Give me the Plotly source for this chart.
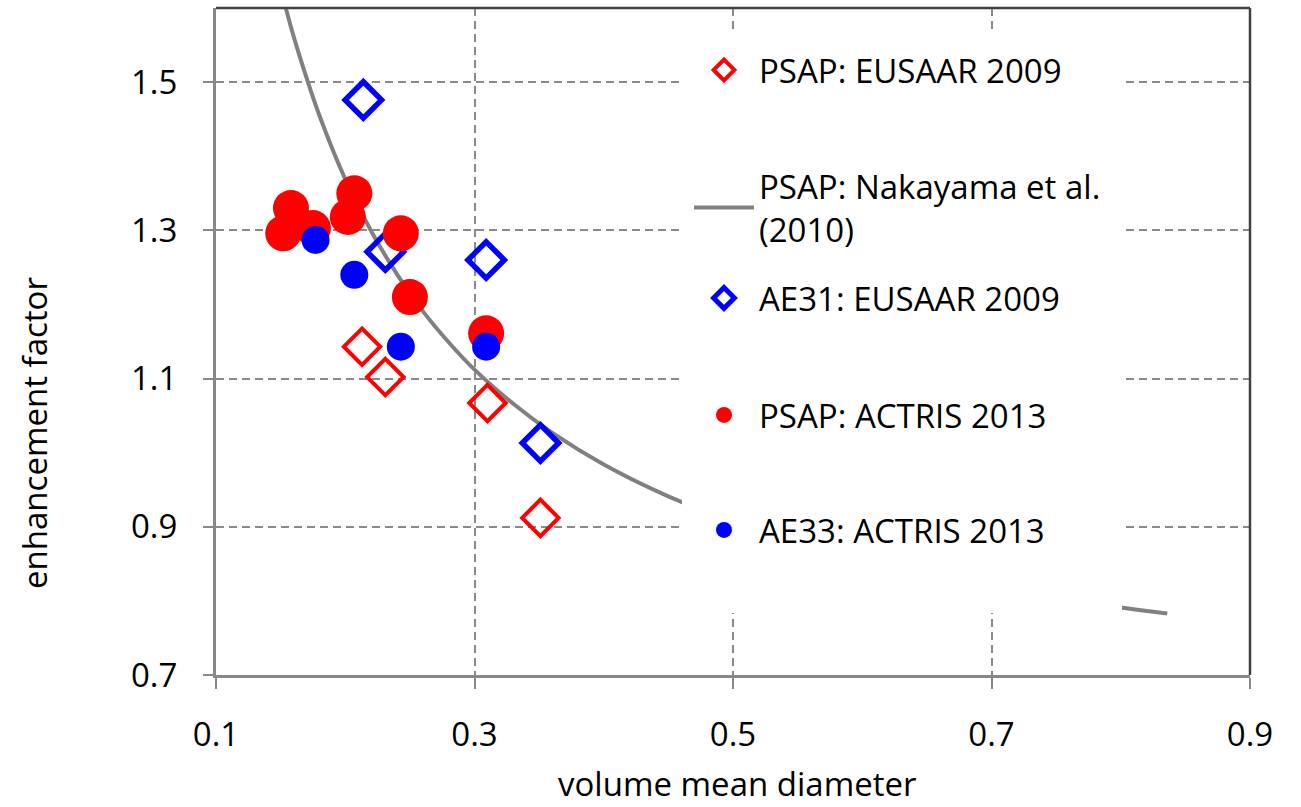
import plotly.graph_objects as go

# ---- data ----
# PSAP: EUSAAR 2009 (open red diamonds)
psap_eusaar_x = [0.213, 0.231, 0.310, 0.351]
psap_eusaar_y = [1.143, 1.102, 1.067, 0.912]
# AE31: EUSAAR 2009 (open blue diamonds)
ae31_x = [0.214, 0.231, 0.309, 0.351]
ae31_y = [1.476, 1.271, 1.260, 1.013]
# PSAP: ACTRIS 2013 (filled red circles)
psap_actris_x = [0.158, 0.152, 0.175, 0.207, 0.202, 0.243, 0.250, 0.309]
psap_actris_y = [1.330, 1.296, 1.303, 1.350, 1.318, 1.296, 1.210, 1.161]
# AE33: ACTRIS 2013 (filled blue circles)
ae33_x = [0.177, 0.207, 0.243, 0.309]
ae33_y = [1.287, 1.240, 1.143, 1.143]
# PSAP: Nakayama et al. (2010) curve
nak_x = [0.154, 0.16, 0.17, 0.18, 0.20, 0.22, 0.24, 0.26, 0.28, 0.30, 0.33,
         0.36, 0.40, 0.45, 0.50, 0.55, 0.60, 0.65, 0.70, 0.75, 0.80, 0.836]
nak_y = [1.600, 1.562, 1.506, 1.455, 1.369, 1.299, 1.241, 1.191, 1.149, 1.112, 1.066,
         1.027, 0.984, 0.941, 0.907, 0.879, 0.855, 0.835, 0.818, 0.804, 0.791, 0.783]

names = ["PSAP: EUSAAR 2009", "PSAP: Nakayama et al.<br>(2010)", "AE31: EUSAAR 2009",
         "PSAP: ACTRIS 2013", "AE33: ACTRIS 2013"]
x_ticks = [0.1, 0.3, 0.5, 0.7, 0.9]
y_ticks = [0.7, 0.9, 1.1, 1.3, 1.5]

FONT = "Open Sans"
FS = 33
GRID = "#8a8a8a"

fig = go.Figure()
fig.add_trace(go.Scatter(x=nak_x, y=nak_y, mode="lines", name=names[1],
                         line=dict(color="#808080", width=4, shape="spline"),
                         legend="legend2"))
fig.add_trace(go.Scatter(x=psap_eusaar_x, y=psap_eusaar_y, mode="markers", name=names[0],
                         marker=dict(symbol="diamond-open", size=28, color="#ff0000",
                                     line=dict(width=4, color="#ff0000")),
                         legend="legend"))
fig.add_trace(go.Scatter(x=ae31_x, y=ae31_y, mode="markers", name=names[2],
                         marker=dict(symbol="diamond-open", size=28, color="#0000ff",
                                     line=dict(width=5.5, color="#0000ff")),
                         legend="legend3"))
fig.add_trace(go.Scatter(x=psap_actris_x, y=psap_actris_y, mode="markers", name=names[3],
                         marker=dict(symbol="circle", size=36, color="#ff0000",
                                     line=dict(width=0)),
                         legend="legend4"))
fig.add_trace(go.Scatter(x=ae33_x, y=ae33_y, mode="markers", name=names[4],
                         marker=dict(symbol="circle", size=28, color="#0000ff",
                                     line=dict(width=0)),
                         legend="legend5"))

# plot area in pixels: x 216..1250, y 8..675
def py(p):
    return (675 - p) / 667.0

def px(p):
    return (p - 216) / 1034.0

leg_common = dict(xanchor="left", yanchor="middle", bgcolor="rgba(0,0,0,0)",
                  borderwidth=0, itemwidth=60, font=dict(family=FONT, size=FS, color="black"),
                  itemclick=False, itemdoubleclick=False)
leg_x = px(689)

fig.update_layout(
    width=1301, height=807,
    margin=dict(l=216, r=51, t=8, b=132),
    paper_bgcolor="white", plot_bgcolor="white",
    font=dict(family=FONT, size=FS, color="black"),
    showlegend=True,
    legend=dict(x=leg_x, y=py(70), **leg_common),
    legend2=dict(x=leg_x, y=py(207.5), **leg_common),
    legend3=dict(x=leg_x, y=py(298), **leg_common),
    legend4=dict(x=leg_x, y=py(415), **leg_common),
    legend5=dict(x=leg_x, y=py(530), **leg_common),
    xaxis=dict(range=[0.1, 0.9], tickvals=x_ticks, ticktext=[f"{v:.1f}" for v in x_ticks],
               showgrid=True, gridcolor=GRID, gridwidth=2, griddash="8px,5px",
               showline=True, linecolor="#888888", linewidth=3, zeroline=False,
               ticks="outside", ticklen=11, tickwidth=2, tickcolor="#888888",
               ticklabelstandoff=17, tickfont=dict(family=FONT, size=FS)),
    yaxis=dict(range=[0.7, 1.6], tickvals=y_ticks, ticktext=[f"{v:.1f}" for v in y_ticks],
               showgrid=True, gridcolor=GRID, gridwidth=2, griddash="8px,5px",
               showline=True, linecolor="#888888", linewidth=3, zeroline=False,
               ticks="outside", ticklen=10, tickwidth=2, tickcolor="#888888",
               ticklabelstandoff=19, tickfont=dict(family=FONT, size=FS)),
    shapes=[
        dict(type="rect", xref="paper", yref="paper", x0=px(682), x1=px(1122),
             y0=py(613), y1=py(30), fillcolor="white", line=dict(width=0), layer="above"),
        dict(type="line", xref="paper", yref="paper", x0=0, x1=1, y0=1, y1=1,
             line=dict(color="#404040", width=2.5), layer="above"),
        dict(type="line", xref="paper", yref="paper", x0=1, x1=1, y0=0, y1=1,
             line=dict(color="#404040", width=2.5), layer="above"),
    ],
    annotations=[
        dict(text="enhancement factor", textangle=-90, xref="paper", yref="paper",
             x=px(35), y=py(433), xanchor="center", yanchor="middle", showarrow=False,
             font=dict(family=FONT, size=FS, color="black")),
        dict(text="volume mean diameter", xref="paper", yref="paper",
             x=px(737), y=py(783), xanchor="center", yanchor="middle", showarrow=False,
             font=dict(family=FONT, size=FS, color="black")),
    ],
)

fig.write_html("out.html")
